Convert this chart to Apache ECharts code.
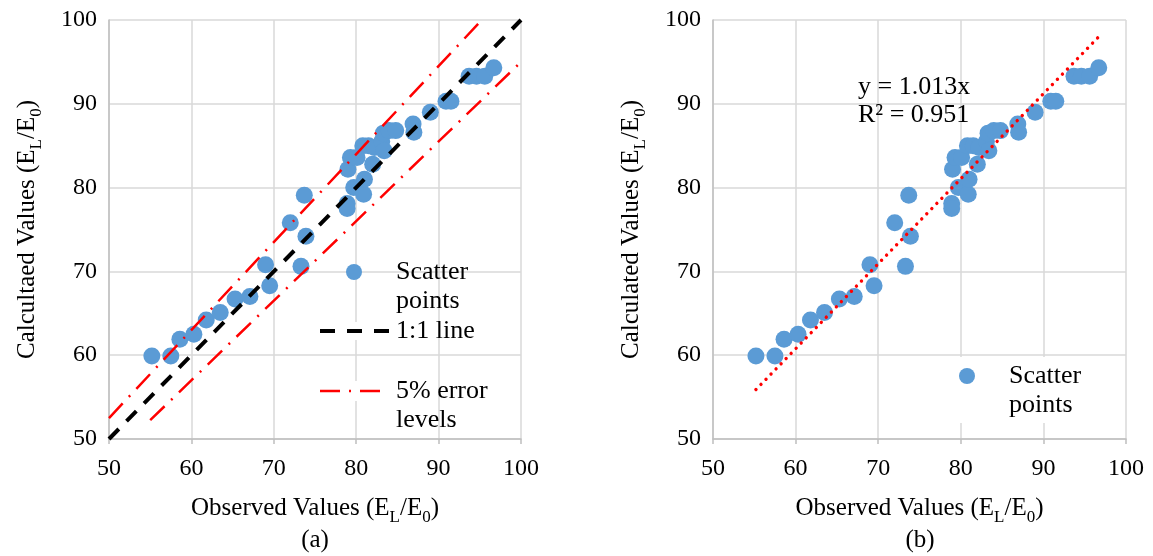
<!DOCTYPE html>
<html><head><meta charset="utf-8">
<script src="https://cdn.jsdelivr.net/npm/echarts@6/dist/echarts.min.js"></script>
<style>html,body{margin:0;padding:0;background:#fff}#c{width:1153px;height:556px}</style>
</head><body><div id="c"></div>
<script>
// ---- data ----
const observed   = [55.2, 57.5, 58.6, 60.3, 61.8, 63.5, 65.3, 67.1, 69.0, 69.5, 72.0, 73.3, 73.7, 73.9,
                    78.9, 78.9, 79.0, 79.3, 80.1, 79.7, 80.9, 81.0, 80.8, 81.5, 82.2, 82.0,
                    83.1, 83.3, 84.0, 84.8, 83.4, 86.9, 87.0, 89.0, 90.9, 91.5, 93.7, 94.6, 95.6, 96.7];
const calculated = [59.9, 59.9, 61.9, 62.5, 64.2, 65.1, 66.7, 67.0, 70.8, 68.3, 75.8, 70.6, 79.1, 74.2,
                    78.1, 77.5, 82.2, 83.6, 83.6, 80.0, 79.2, 81.0, 85.0, 85.0, 84.8, 82.8,
                    85.5, 86.5, 86.8, 86.8, 84.4, 87.6, 86.6, 89.0, 90.3, 90.3, 93.3, 93.3, 93.3, 94.3];
const oneToOneX = [50, 100];
const oneToOneY = [50, 100];
const errUpperX = [50, 95.24];
const errUpperY = [52.5, 100];
const errLowerX = [55, 100];
const errLowerY = [52.25, 95];
const trendX = [55.2, 96.7];
const trendY = [55.9, 98.0];
const axisTicks = [50, 60, 70, 80, 90, 100];
const equationText = ['y = 1.013x', 'R\u00b2 = 0.951'];

// ---- presentation ----
const FF = '"Liberation Serif", "Times New Roman", serif';
const BLUE = '#5b9bd5';
const pairs = (xs, ys) => xs.map((x, i) => [x, ys[i]]);
const rich = {
  m: {fontSize: 25, fontFamily: FF, color: '#000', verticalAlign: 'bottom', padding: [0, 0, 5, 0]},
  s: {fontSize: 17, fontFamily: FF, color: '#000', verticalAlign: 'bottom'}
};
const nameWithSub = p => `{m|${p} (E}{s|L}{m|/E}{s|0}{m|)}`;
const tmin = axisTicks[0], tmax = axisTicks[axisTicks.length - 1], tint = axisTicks[1] - axisTicks[0];
const tickRich = {t: {fontFamily: FF, fontSize: 24, color: '#000'}};
const tickFmt = v => '{t|' + v + '}';

function xAxis(gi) {
  return {
    type: 'value', gridIndex: gi, min: tmin, max: tmax, interval: tint,
    name: nameWithSub('Observed Values'), nameLocation: 'middle', nameGap: 57,
    nameTextStyle: {rich},
    axisLine: {show: true, lineStyle: {color: '#bfbfbf', width: 1.5}},
    axisTick: {show: true, length: 5, lineStyle: {color: '#bfbfbf', width: 1.5}},
    axisLabel: {margin: 18, formatter: tickFmt, rich: tickRich, fontFamily: FF, fontSize: 24, color: '#000'},
    splitLine: {show: true, lineStyle: {color: '#d9d9d9', width: 1.5}}
  };
}
function yAxis(gi, label) {
  return {
    type: 'value', gridIndex: gi, min: tmin, max: tmax, interval: tint,
    name: nameWithSub(label), nameLocation: 'middle', nameGap: 64,
    nameTextStyle: {rich},
    axisLine: {show: true, lineStyle: {color: '#bfbfbf', width: 1.5}},
    axisTick: {show: false},
    axisLabel: {margin: 12, formatter: tickFmt, rich: tickRich, fontFamily: FF, fontSize: 24, color: '#000'},
    splitLine: {show: true, lineStyle: {color: '#d9d9d9', width: 1.5}}
  };
}
const lineSeries = (gi, data, style, z) => ({
  type: 'line', xAxisIndex: gi, yAxisIndex: gi, data, symbol: 'none', silent: true,
  lineStyle: style, z: z || 3, animation: false
});
const txt = (x, y, text, extra) => ({
  type: 'text', x, y, silent: true, z: 10,
  style: Object.assign({text, fontFamily: FF, fontSize: 26, fill: '#000', lineHeight: 29}, extra || {})
});

const option = {
  animation: false,
  backgroundColor: '#fff',
  textStyle: {fontFamily: FF},
  grid: [
    {left: 109, top: 20, width: 412, height: 419},
    {left: 713, top: 20, width: 413, height: 419}
  ],
  xAxis: [xAxis(0), xAxis(1)],
  yAxis: [yAxis(0, 'Calcultaed Values'), yAxis(1, 'Calculated Values')],
  series: [
    {type: 'scatter', xAxisIndex: 0, yAxisIndex: 0, data: pairs(observed, calculated),
     symbolSize: 17, itemStyle: {color: BLUE, opacity: 1}, z: 2},
    lineSeries(0, pairs(oneToOneX, oneToOneY), {color: '#000', width: 4, type: [14, 11]}),
    lineSeries(0, pairs(errUpperX, errUpperY), {color: '#ff0000', width: 2.5, type: [20, 9, 2, 9]}),
    lineSeries(0, pairs(errLowerX, errLowerY), {color: '#ff0000', width: 2.5, type: [20, 9, 2, 9]}),
    {type: 'scatter', xAxisIndex: 1, yAxisIndex: 1, data: pairs(observed, calculated),
     symbolSize: 17, itemStyle: {color: BLUE, opacity: 1}, z: 2},
    lineSeries(1, pairs(trendX, trendY), {color: '#ff0000', width: 3.4, type: [0.01, 7.2], cap: 'round'})
  ],
  graphic: [
    // left legend
    {type: 'circle', shape: {cx: 354, cy: 272, r: 8}, style: {fill: BLUE}, silent: true, z: 10},
    txt(396, 258, 'Scatter\npoints'),
    {type: 'rect', shape: {x: 318, y: 322, width: 74, height: 18}, style: {fill: '#fff'}, silent: true, z: 9},
    {type: 'line', shape: {x1: 320, y1: 331, x2: 390, y2: 331}, style: {stroke: '#000', lineWidth: 4, lineDash: [15, 12]}, silent: true, z: 10},
    txt(396, 317, '1:1 line'),
    {type: 'rect', shape: {x: 318, y: 381, width: 74, height: 20}, style: {fill: '#fff'}, silent: true, z: 9},
    {type: 'line', shape: {x1: 320, y1: 391, x2: 380, y2: 391}, style: {stroke: '#ff0000', lineWidth: 2.5, lineDash: [20, 9, 2, 9]}, silent: true, z: 10},
    txt(396, 377, '5% error\nlevels'),
    // right legend
    {type: 'rect', shape: {x: 955, y: 357, width: 130, height: 66}, style: {fill: '#fff'}, silent: true, z: 9},
    {type: 'circle', shape: {cx: 967, cy: 376, r: 8}, style: {fill: BLUE}, silent: true, z: 10},
    txt(1009, 362, 'Scatter\npoints'),
    // trendline equation
    txt(858, 73, equationText.join('\n'), {lineHeight: 28}),
    // sub-captions
    txt(315, 540, '(a)', {fontSize: 25, align: 'center', verticalAlign: 'middle'}),
    txt(920, 540, '(b)', {fontSize: 25, align: 'center', verticalAlign: 'middle'})
  ]
};
const chart = echarts.init(document.getElementById('c'), null, {renderer: 'canvas'});
chart.setOption(option);
</script>
</body></html>
